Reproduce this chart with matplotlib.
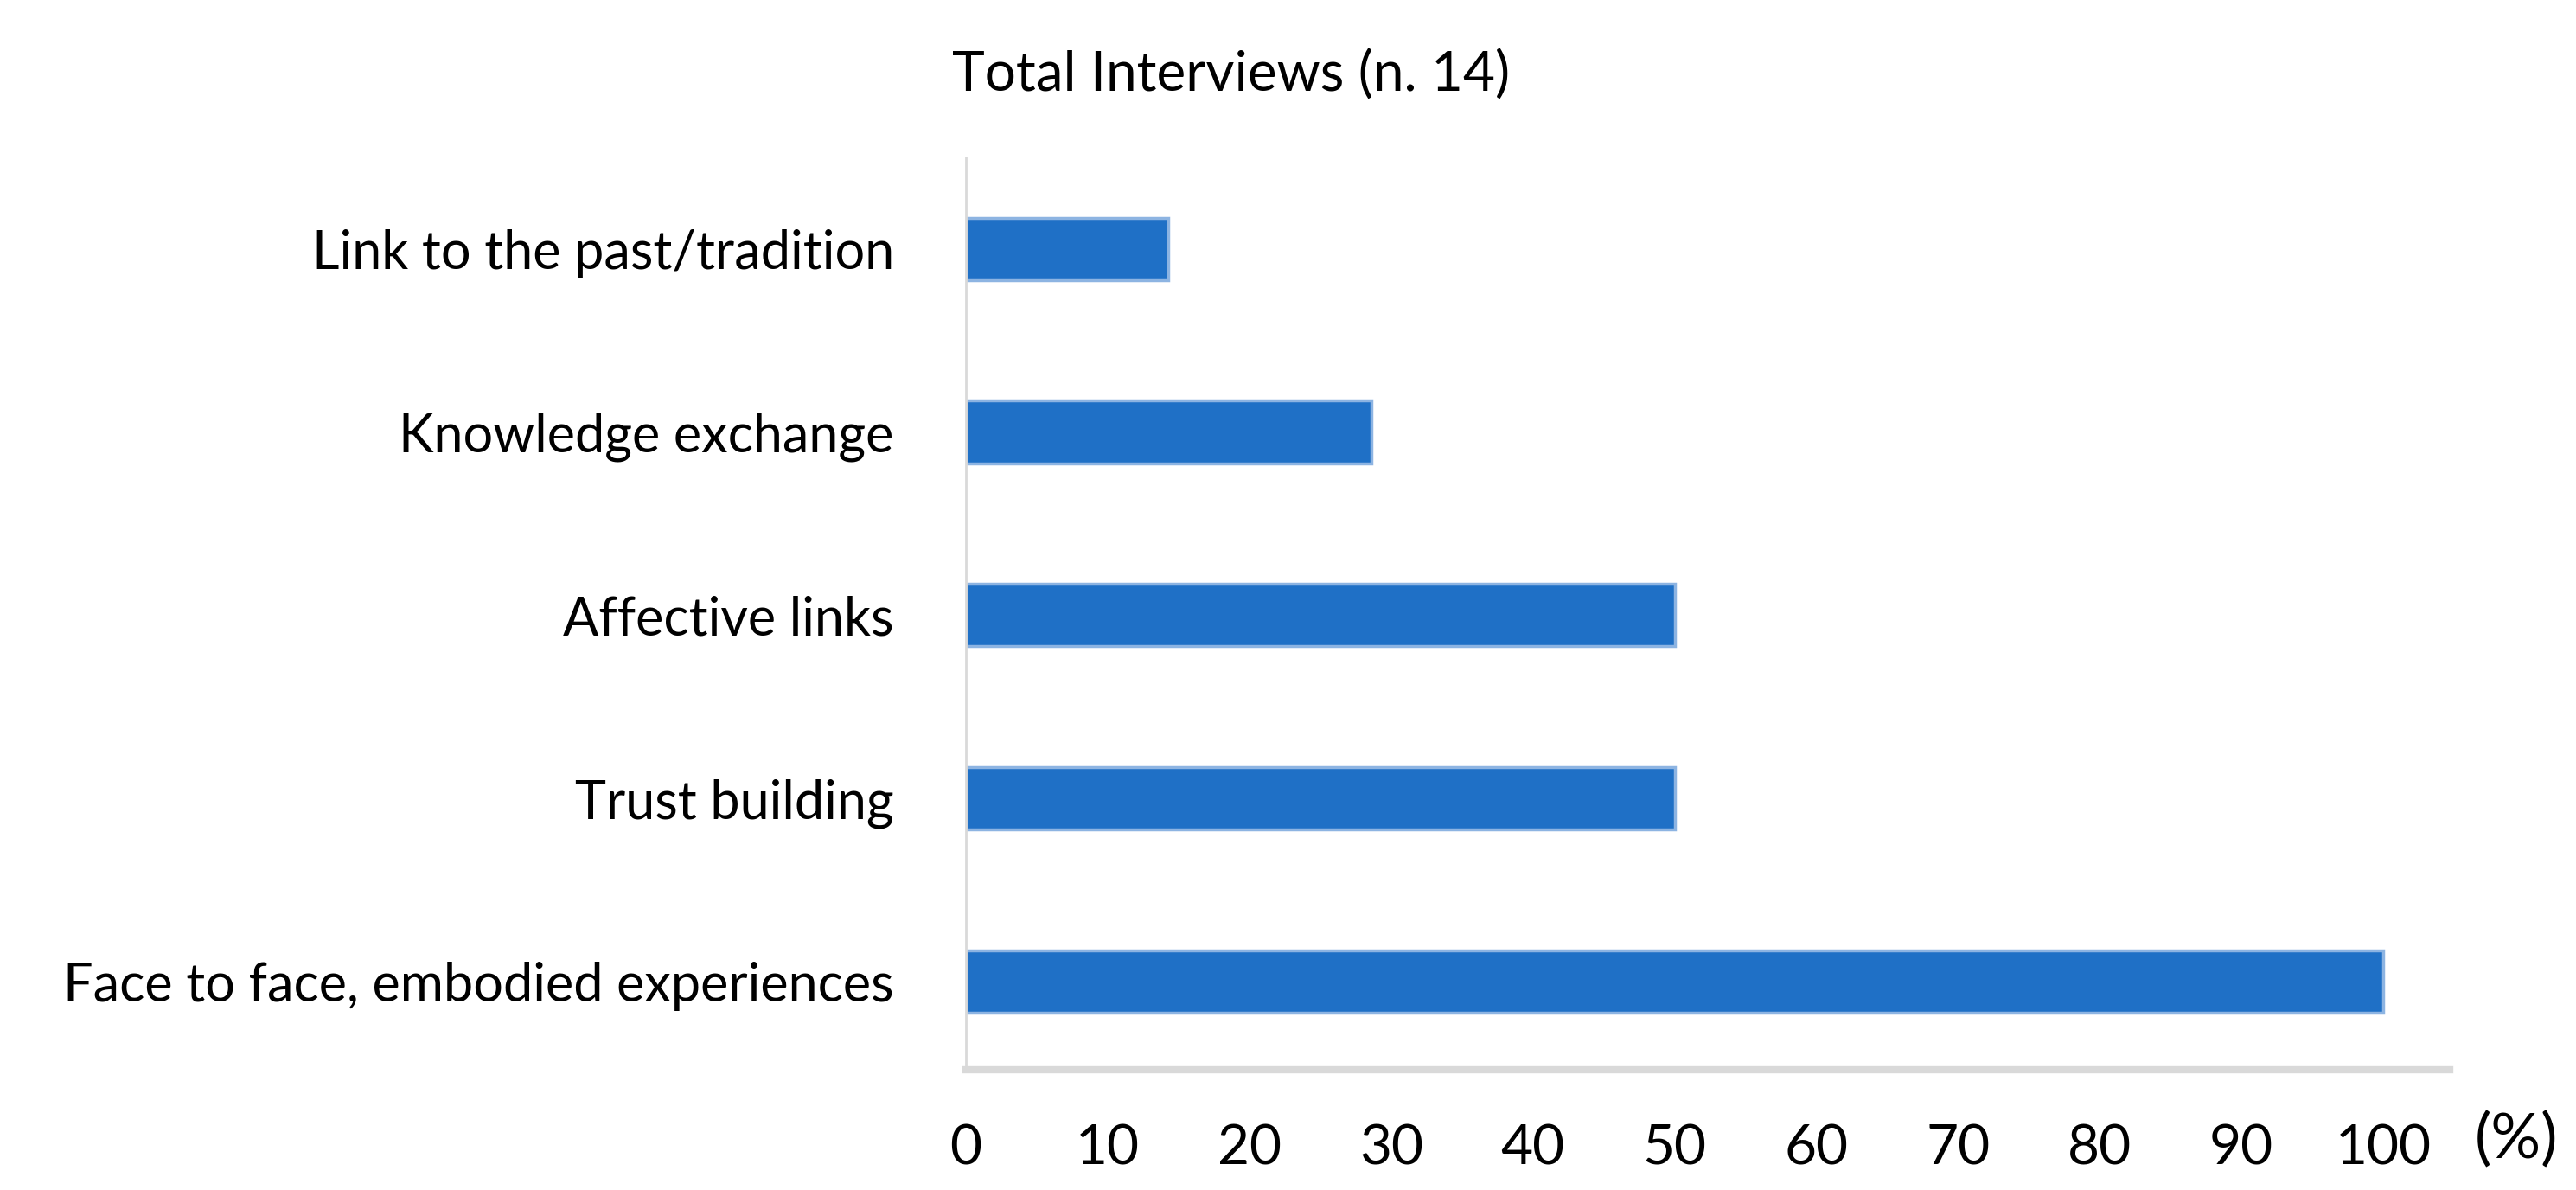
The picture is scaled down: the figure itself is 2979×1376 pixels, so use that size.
import matplotlib.pyplot as plt

categories = ['Face to face, embodied experiences', 'Trust building', 'Affective links',
              'Knowledge exchange', 'Link to the past/tradition']
values = [100, 50, 50, 28.6, 14.3]
ticks = [0, 10, 20, 30, 40, 50, 60, 70, 80, 90, 100]

plt.rcParams['font.family'] = ['Lato', 'DejaVu Sans']

fig = plt.figure(figsize=(29.79, 13.76), dpi=100)
ax = fig.add_axes([0.375, 0.101, 0.576, 0.767])

ax.barh(range(len(categories)), values, height=0.34, color='#1F70C6',
        edgecolor='#8DB4E2', linewidth=2.5)
ax.set_ylim(-0.48, 4.5)
ax.set_xlim(0, 104.7)
ax.set_yticks(range(len(categories)))
ax.set_yticklabels(categories, fontsize=44)
ax.set_xticks(ticks)
ax.set_xticklabels([str(t) for t in ticks], fontsize=46)
ax.tick_params(axis='y', length=0, pad=60)
ax.tick_params(axis='x', length=0, pad=45)

for s in ['top', 'right']:
    ax.spines[s].set_visible(False)
ax.spines['left'].set_color('#D9D9D9')
ax.spines['left'].set_linewidth(2)
ax.spines['bottom'].set_color('#D9D9D9')
ax.spines['bottom'].set_linewidth(6)

fig.text(0.478, 0.937, 'Total Interviews (n. 14)', ha='center', va='center', fontsize=46)
fig.text(0.977, 0.042, '(%)', ha='center', va='center', fontsize=52)

fig.savefig('out.png', dpi=100)
